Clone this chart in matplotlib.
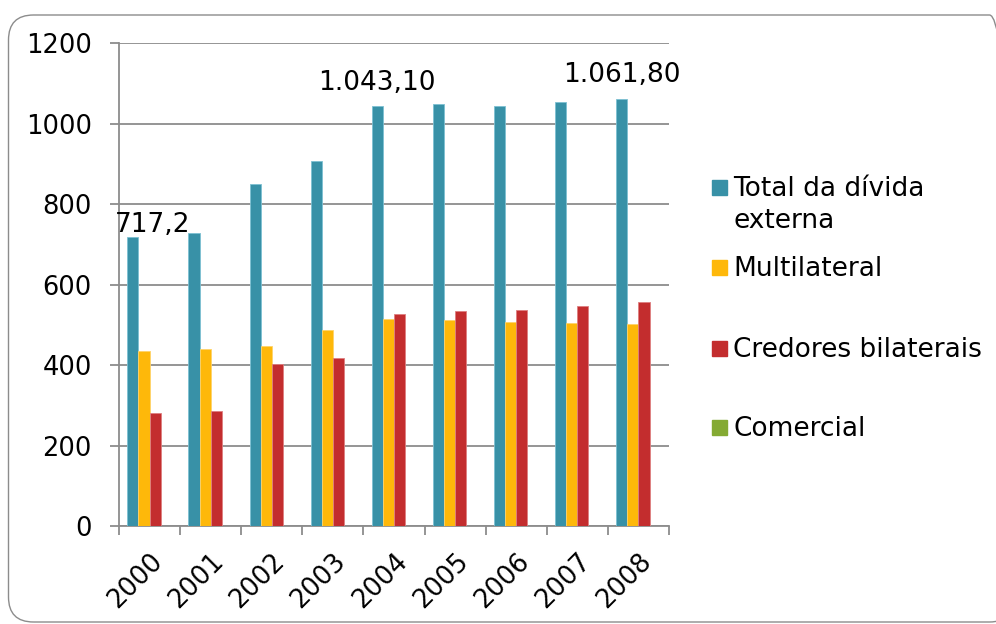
import numpy as np
import matplotlib
matplotlib.use("Agg")
import matplotlib.pyplot as plt
from matplotlib.patches import FancyBboxPatch, Rectangle

# dívida externa, 2000-2008
anos = ["2000", "2001", "2002", "2003", "2004", "2005", "2006", "2007", "2008"]
total = [717.2, 728, 850, 907, 1043.1, 1048, 1045, 1053, 1061.8]
multilateral = [435, 440, 447, 487, 514, 513, 507, 505, 503]
bilaterais = [281, 286, 402, 418, 527, 534, 537, 546, 556]
comercial = [0, 0, 0, 0, 0, 0, 0, 0, 0]

series = [total, multilateral, bilaterais, comercial]
nomes = ["Total da dívida\nexterna", "Multilateral", "Credores bilaterais", "Comercial"]
cores = ["#3891A7", "#FEB80A", "#C32D2E", "#84AA33"]
bordas = ["#7DC0D2", "#FFD36A", "#DE7F80", "#B5CF80"]

# rótulos de dados: (série, índice, texto, deslocamento em pt)
rotulos = [(0, 0, "717,2", (14, 4)),
           (0, 4, "1.043,10", (0, 12)),
           (0, 8, "1.061,80", (0, 12))]

plt.rcParams["font.family"] = "DejaVu Sans"
fig = plt.figure(figsize=(9.96, 6.24), dpi=100)
ax = fig.add_axes([0.1195, 0.1571, 0.5522, 0.7735])

x = np.arange(len(anos))
w = 1 / 5.5
for i, (vals, cor, borda) in enumerate(zip(series, cores, bordas)):
    ax.bar(x + (i - 1.5) * w, vals, width=w, color=cor, edgecolor=borda,
           linewidth=0.6, zorder=3)

for s, k, txt, off in rotulos:
    ax.annotate(txt, (x[k] - 1.5 * w + s * w, series[s][k]), xytext=off,
                textcoords="offset points", ha="center", va="baseline",
                fontsize=19, zorder=4)

grid = "#8C8C8C"
ax.set_xlim(-0.5, len(anos) - 0.5)
ax.set_ylim(0, 1200)
ax.set_yticks(np.arange(0, 1201, 200))
ax.yaxis.grid(True, color=grid, linewidth=1.3, zorder=0)
ax.set_xticks(np.arange(-0.5, len(anos), 1.0))
ax.set_xticklabels([])
ax.set_xticks(x, minor=True)
ax.set_xticklabels(anos, minor=True, rotation=45, ha="right", va="top",
                   rotation_mode="anchor", fontsize=18.5)
ax.tick_params(axis="x", which="minor", length=0, pad=16)
ax.tick_params(axis="x", which="major", length=6.5, width=1.3, color=grid)
ax.tick_params(axis="y", length=6.5, width=1.3, color=grid, pad=13, labelsize=18.5)
for sp in ["top", "right"]:
    ax.spines[sp].set_visible(False)
for sp in ["left", "bottom"]:
    ax.spines[sp].set_color(grid)
    ax.spines[sp].set_linewidth(1.3)

# legenda (marcador alinhado com a primeira linha do texto)
H = 624
ys = [187, 267, 348, 427]
for nome, cor, yc in zip(nomes, cores, ys):
    fig.add_artist(Rectangle((712, H - yc - 7.5), 15, 15, color=cor, transform=None))
    for j, linha in enumerate(nome.split("\n")):
        fig.text(733 / 996, (H - yc - 9 - 32 * j) / H, linha, fontsize=19,
                 va="baseline", ha="left")

fig.add_artist(FancyBboxPatch((8.5, 2), 1006, 607,
                              boxstyle="round,pad=0,rounding_size=25",
                              facecolor="none", edgecolor=grid, linewidth=1.0,
                              transform=None))

fig.savefig("out.png", dpi=100)
